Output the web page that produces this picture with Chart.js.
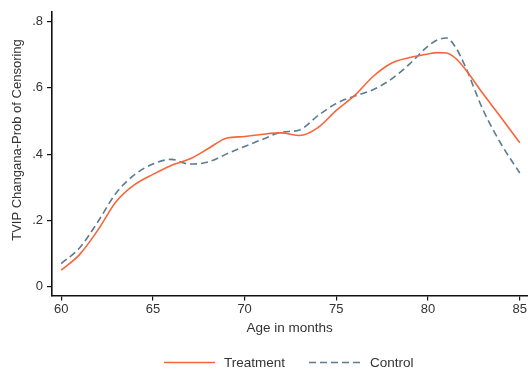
<!DOCTYPE html>
<html>
<head>
<meta charset="utf-8">
<script src="https://cdn.jsdelivr.net/npm/chart.js@4/dist/chart.umd.min.js"></script>
<style>
  html, body { margin: 0; padding: 0; background: #fff; }
  #wrap { width: 528px; height: 373px; }
</style>
</head>
<body>
<div id="wrap"><canvas id="c" width="528" height="373"></canvas></div>
<script>
// Age in months (x positions of the smoothed estimates)
const ages = [60, 61, 62, 63, 64, 65, 66, 67, 68, 69, 70, 71, 72, 73, 74, 75, 76, 77, 78, 79, 80, 80.5, 81, 81.5, 82, 83, 84, 85];

// Probability of censoring, treatment group
const treatment = [0.050, 0.097, 0.171, 0.257, 0.308, 0.339, 0.366, 0.385, 0.416, 0.448, 0.453, 0.460, 0.464, 0.456, 0.480, 0.532, 0.577, 0.634, 0.674, 0.691, 0.702, 0.706, 0.705, 0.689, 0.658, 0.582, 0.509, 0.434];

// Probability of censoring, control group
const control = [0.070, 0.117, 0.196, 0.283, 0.338, 0.370, 0.384, 0.370, 0.376, 0.400, 0.423, 0.445, 0.466, 0.473, 0.516, 0.553, 0.575, 0.594, 0.626, 0.672, 0.726, 0.744, 0.750, 0.722, 0.668, 0.533, 0.429, 0.343];

// Axis ticks
const xTicks = [60, 65, 70, 75, 80, 85];
const yTicks = [0, 0.2, 0.4, 0.6, 0.8];

const seriesNames = ['Treatment', 'Control'];
const yTitle = 'TVIP Changana-Prob of Censoring';
const xTitle = 'Age in months';

const FONT = '"Liberation Sans", Arial, Helvetica, sans-serif';
const TEXT = '#333333';
const ORANGE = '#f8653a';
const SLATE = '#5b7b92';

const toPoints = (vals) => ages.map((a, i) => ({ x: a, y: vals[i] }));

// Legend row and rotated y title drawn below/left of the plot
const extras = {
  id: 'extras',
  afterDraw(chart) {
    const ctx = chart.ctx;
    ctx.save();
    ctx.font = '13.5px ' + FONT;
    ctx.fillStyle = TEXT;
    ctx.textBaseline = 'middle';
    ctx.textAlign = 'left';
    const rowY = 362.5;
    const entries = [
      { ds: chart.data.datasets[0], x0: 164, x1: 215, tx: 224 },
      { ds: chart.data.datasets[1], x0: 309, x1: 362, tx: 370 }
    ];
    entries.forEach(e => {
      ctx.save();
      ctx.strokeStyle = e.ds.borderColor;
      ctx.lineWidth = e.ds.borderWidth;
      ctx.setLineDash(e.ds.borderDash || []);
      ctx.beginPath();
      ctx.moveTo(e.x0, rowY);
      ctx.lineTo(e.x1, rowY);
      ctx.stroke();
      ctx.restore();
      ctx.fillText(e.ds.label, e.tx, rowY + 0.5);
    });

    ctx.font = '13px ' + FONT;
    ctx.textAlign = 'center';
    ctx.translate(17, 140);
    ctx.rotate(-Math.PI / 2);
    ctx.fillText(yTitle, 0, 0);
    ctx.restore();
  }
};

new Chart(document.getElementById('c'), {
  type: 'line',
  data: {
    datasets: [
      {
        label: seriesNames[0],
        data: toPoints(treatment),
        borderColor: ORANGE,
        borderWidth: 1.6,
        pointRadius: 0,
        fill: false,
        cubicInterpolationMode: 'monotone'
      },
      {
        label: seriesNames[1],
        data: toPoints(control),
        borderColor: SLATE,
        borderWidth: 1.6,
        borderDash: [7, 4],
        pointRadius: 0,
        fill: false,
        cubicInterpolationMode: 'monotone'
      }
    ]
  },
  options: {
    responsive: false,
    animation: false,
    devicePixelRatio: 1,
    layout: { padding: { left: 0, right: 0, top: 8, bottom: 0 } },
    plugins: {
      legend: { display: false },
      tooltip: { enabled: false }
    },
    scales: {
      x: {
        type: 'linear',
        min: 59.5,
        max: 85.4,
        afterBuildTicks: (s) => { s.ticks = xTicks.map(v => ({ value: v })); },
        afterFit: (s) => { s.height = 77.5; },
        ticks: {
          color: TEXT,
          font: { family: FONT, size: 13 },
          padding: 1,
          maxRotation: 0,
          callback: (v) => String(v)
        },
        grid: {
          display: true,
          drawOnChartArea: false,
          drawTicks: true,
          tickLength: 5,
          color: '#111',
          lineWidth: 1.2
        },
        border: { display: true, color: '#111', width: 1.6 },
        title: {
          display: true,
          text: xTitle,
          color: TEXT,
          font: { family: FONT, size: 13.5 },
          padding: { top: 0, bottom: 37 }
        }
      },
      y: {
        min: -0.0262,
        max: 0.829,
        afterBuildTicks: (s) => { s.ticks = yTicks.map(v => ({ value: v })); },
        afterFit: (s) => { s.width = 52; },
        ticks: {
          color: TEXT,
          font: { family: FONT, size: 13 },
          padding: 4,
          callback: (v) => v === 0 ? '0' : v.toFixed(1).replace(/^0/, '')
        },
        grid: {
          display: true,
          drawOnChartArea: false,
          drawTicks: true,
          tickLength: 5,
          color: '#111',
          lineWidth: 1.2
        },
        border: { display: true, color: '#111', width: 1.6 }
      }
    }
  },
  plugins: [extras]
});
</script>
</body>
</html>
